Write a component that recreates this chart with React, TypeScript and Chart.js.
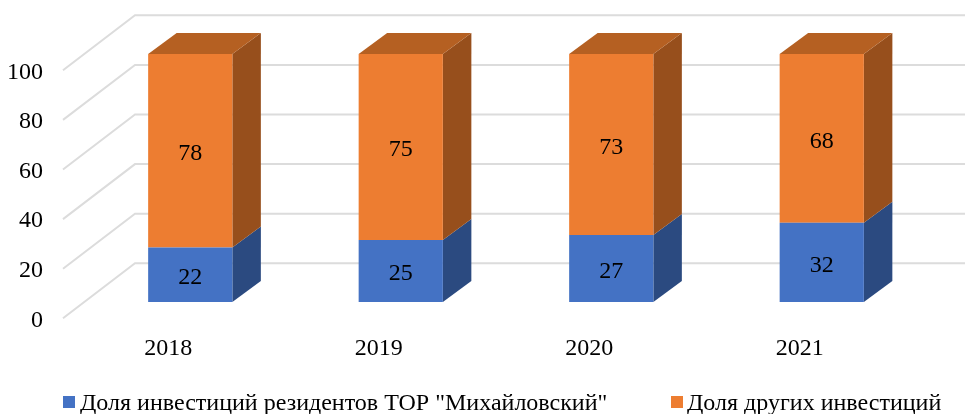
import React, { useEffect, useRef } from "react";
import { Chart, registerables } from "chart.js";

Chart.register(...registerables);

const years = ["2018", "2019", "2020", "2021"];
const residentShare = [22, 25, 27, 32];
const otherShare = [78, 75, 73, 68];
const residentLabel = 'Доля инвестиций резидентов ТОР "Михайловский"';
const otherLabel = "Доля других инвестиций";
const legendX = [63, 671];
const legendTextX = [80, 687];
const sideColors = ["#2b4a80", "#974f1c"];
const topColors = ["#35599a", "#b56022"];

const FONT = '"Liberation Serif"';
const WALL = { dx: 72, dy: -55 };
const BAR_SHIFT = { dx: 22, dy: -16.3 };
const BAR_DEPTH = { dx: 28.5, dy: -21 };

const poly = (ctx: CanvasRenderingContext2D, pts: number[][], fill: string) => {
  ctx.beginPath();
  pts.forEach(([x, y], i) => (i ? ctx.lineTo(x, y) : ctx.moveTo(x, y)));
  ctx.closePath();
  ctx.fillStyle = fill;
  ctx.fill();
};

const scenePlugin = {
  id: "scene",
  beforeDatasetsDraw(chart: any) {
    const { ctx, scales, chartArea, width } = chart;
    ctx.save();
    ctx.strokeStyle = "#dcdcdc";
    ctx.lineWidth = 2;
    scales.y.ticks.forEach((t: any) => {
      const py = scales.y.getPixelForValue(t.value);
      ctx.beginPath();
      ctx.moveTo(chartArea.left, py);
      ctx.lineTo(chartArea.left + WALL.dx, py + WALL.dy);
      ctx.lineTo(width, py + WALL.dy);
      ctx.stroke();
    });
    ctx.restore();

    ctx.save();
    ctx.translate(BAR_SHIFT.dx, BAR_SHIFT.dy);
    chart.data.datasets.forEach((_: any, di: number) => {
      chart.getDatasetMeta(di).data.forEach((bar: any) => {
        const r = bar.x + bar.width / 2;
        const l = bar.x - bar.width / 2;
        poly(ctx, [[r, bar.y], [r + BAR_DEPTH.dx, bar.y + BAR_DEPTH.dy], [r + BAR_DEPTH.dx, bar.base + BAR_DEPTH.dy], [r, bar.base]], sideColors[di]);
        if (di === chart.data.datasets.length - 1) {
          poly(ctx, [[l, bar.y], [l + BAR_DEPTH.dx, bar.y + BAR_DEPTH.dy], [r + BAR_DEPTH.dx, bar.y + BAR_DEPTH.dy], [r, bar.y]], topColors[di]);
        }
      });
    });
  },
  afterDatasetsDraw(chart: any) {
    const { ctx } = chart;
    ctx.font = `24px ${FONT}`;
    ctx.fillStyle = "#000";
    ctx.textAlign = "center";
    ctx.textBaseline = "middle";
    chart.data.datasets.forEach((ds: any, di: number) => {
      chart.getDatasetMeta(di).data.forEach((bar: any, i: number) => {
        ctx.fillText(String(ds.data[i]), bar.x, (bar.y + bar.base) / 2 + 3);
      });
    });
    ctx.restore();
  },
  afterDraw(chart: any) {
    const { ctx } = chart;
    ctx.save();
    ctx.font = `24px ${FONT}`;
    ctx.textAlign = "left";
    ctx.textBaseline = "middle";
    chart.data.datasets.forEach((ds: any, di: number) => {
      ctx.fillStyle = ds.backgroundColor;
      ctx.fillRect(legendX[di], 396, 12, 12);
      ctx.fillStyle = "#000";
      ctx.fillText(ds.label, legendTextX[di], 404);
    });
    ctx.restore();
  },
};

export default function App() {
  const ref = useRef<HTMLCanvasElement>(null);
  useEffect(() => {
    const chart = new Chart(ref.current!, {
      type: "bar",
      data: {
        labels: years,
        datasets: [
          { label: residentLabel, data: residentShare, backgroundColor: "#4472c4", clip: false } as any,
          { label: otherLabel, data: otherShare, backgroundColor: "#ed7d31", clip: false } as any,
        ],
      },
      options: {
        responsive: false,
        animation: false,
        layout: { padding: { top: 70.3, right: 60, left: 0, bottom: 0 } },
        datasets: { bar: { categoryPercentage: 1, barPercentage: 0.4 } },
        plugins: { legend: { display: false }, tooltip: { enabled: false } },
        scales: {
          x: {
            stacked: true,
            grid: { display: false, drawTicks: false },
            border: { display: false },
            ticks: { color: "#000", font: { family: FONT, size: 24 }, padding: 16 },
            afterFit: (s: any) => { s.height = 95.7; },
          },
          y: {
            stacked: true,
            min: 0,
            max: 100,
            grid: { display: false, drawTicks: false },
            border: { display: false },
            ticks: { stepSize: 20, color: "#000", font: { family: FONT, size: 24 }, padding: 20, labelOffset: 2 },
            afterFit: (s: any) => { s.width = 63; },
          },
        },
      },
      plugins: [scenePlugin],
    });
    return () => chart.destroy();
  }, []);
  return (
    <div style={{ position: "fixed", left: 0, top: 0, width: 965, height: 414, background: "#fff" }}>
      <canvas ref={ref} width={965} height={414} style={{ display: "block" }} />
    </div>
  );
}
